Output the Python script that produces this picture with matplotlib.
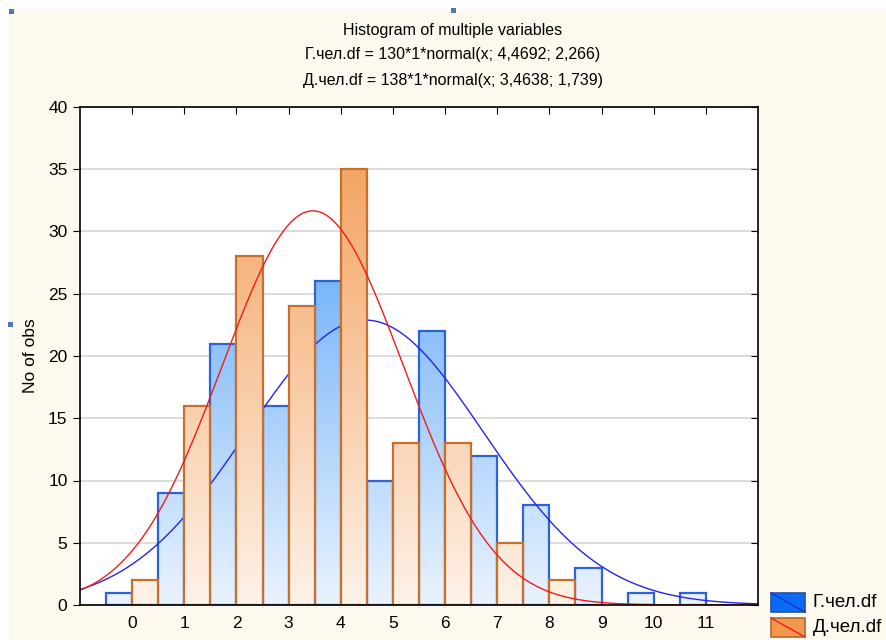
import numpy as np
import matplotlib.pyplot as plt
from matplotlib.patches import Rectangle, PathPatch
from matplotlib.path import Path
from matplotlib.lines import Line2D
from matplotlib.colors import LinearSegmentedColormap

plt.rcParams['font.family'] = ['Liberation Sans', 'DejaVu Sans']

# data
categories = [0, 1, 2, 3, 4, 5, 6, 7, 8, 9, 10, 11]
g_counts = [1, 9, 21, 16, 26, 10, 22, 12, 8, 3, 1, 1]      # Г.чел.df, n=130
d_counts = [2, 16, 28, 24, 35, 13, 13, 5, 2, 0, 0, 0]      # Д.чел.df, n=138
g_n, g_mean, g_sd = 130, 4.4692, 2.266
d_n, d_mean, d_sd = 138, 3.4638, 1.739
title_lines = ["Histogram of multiple variables",
               "Г.чел.df = 130*1*normal(x; 4,4692; 2,266)",
               "Д.чел.df = 138*1*normal(x; 3,4638; 1,739)"]

W, H = 886, 640
fig = plt.figure(figsize=(W / 100, H / 100), dpi=100, facecolor='white')
# cream panel
fig.patches.append(Rectangle((9 / W, 0), 1, 1 - 9 / H, transform=fig.transFigure,
                             facecolor='#fef9ee', edgecolor='none', zorder=-10))
for hx, hy in [(9, 9), (451, 8), (8, 322)]:
    fig.patches.append(Rectangle((hx / W, 1 - (hy + 5) / H), 5 / W, 5 / H,
                                 transform=fig.transFigure, facecolor='#4a78b4',
                                 edgecolor='none'))

ax = fig.add_axes([80 / W, 1 - 605 / H, (758 - 80) / W, (605 - 107) / H])
ax.set_facecolor('white')
ax.set_xlim(-1, 12)
ax.set_ylim(0, 40)


def gradient_bars(lefts, heights, width, top_col, bot_col, edge, z):
    verts, codes = [], []
    for x0, h in zip(lefts, heights):
        if h <= 0:
            continue
        verts += [(x0, 0), (x0, h), (x0 + width, h), (x0 + width, 0), (x0, 0)]
        codes += [Path.MOVETO, Path.LINETO, Path.LINETO, Path.LINETO, Path.CLOSEPOLY]
    path = Path(verts, codes)
    clip = PathPatch(path, facecolor='none', edgecolor='none', transform=ax.transData)
    ax.add_patch(clip)
    cmap = LinearSegmentedColormap.from_list('g', [bot_col, top_col])
    grad = np.linspace(0, 1, 256).reshape(-1, 1)
    im = ax.imshow(grad, cmap=cmap, origin='lower', extent=[-1, 12, 0, 40],
                   aspect='auto', zorder=z, interpolation='bilinear')
    im.set_clip_path(clip)
    for x0, h in zip(lefts, heights):
        if h <= 0:
            continue
        ax.add_patch(Rectangle((x0, 0), width, h, facecolor='none', edgecolor=edge,
                               linewidth=1.6, zorder=z + 0.1))


cats = np.array(categories, dtype=float)
gradient_bars(cats - 0.5, g_counts, 0.5, '#3d96f8', '#eaf3fd', '#2f62d4', 2)

x = np.linspace(-1, 12, 600)
g_curve = g_n * np.exp(-0.5 * ((x - g_mean) / g_sd) ** 2) / (g_sd * np.sqrt(2 * np.pi))
d_curve = d_n * np.exp(-0.5 * ((x - d_mean) / d_sd) ** 2) / (d_sd * np.sqrt(2 * np.pi))
ax.plot(x, g_curve, color='#2424f0', linewidth=1.0, zorder=3)

gradient_bars(cats, d_counts, 0.5, '#f39a52', '#fdf2e8', '#c4702e', 4)
ax.plot(x, d_curve, color='#f01c1c', linewidth=1.0, zorder=5)

ax.set_yticks(np.arange(0, 41, 5))
ax.set_xticks(categories)
ax.grid(axis='y', color='#d6d6d6', linewidth=1.2, zorder=0)
ax.set_axisbelow(True)
ax.tick_params(axis='x', direction='in', top=True, length=5, labelsize=12.5, pad=8)
ax.tick_params(axis='y', direction='out', length=5, labelsize=12.5, pad=4)
ax.tick_params(axis='y', which='both', right=True)
for t in ax.yaxis.get_ticklines()[1::2]:
    t.set_marker(0)
for sp in ax.spines.values():
    sp.set_linewidth(1.2)
    sp.set_zorder(6)
ax.set_ylabel("No of obs", fontsize=12.5, labelpad=7)

for i, (line, yy) in enumerate(zip(title_lines, [30, 55, 80])):
    fig.text(453 / W, 1 - yy / H, line, ha='center', va='center', fontsize=11.5)

# legend
for (ly, fc, lc, lab) in [(593, '#0a6cf4', '#1430c8', "Г.чел.df"),
                          (618, '#f4964c', '#f01c1c', "Д.чел.df")]:
    x0, x1 = 771 / W, 805 / W
    y0, y1 = 1 - (ly + 19) / H, 1 - ly / H
    fig.patches.append(Rectangle((x0, y0), x1 - x0, y1 - y0, transform=fig.transFigure,
                                 facecolor=fc, edgecolor='#2a4fa0' if lab.startswith('Г') else '#b06a30',
                                 linewidth=1.2))
    fig.lines.append(Line2D([x0, x1], [y1, y0], transform=fig.transFigure,
                            color=lc, linewidth=1.0))
    fig.text(813 / W, (y0 + y1) / 2, lab, ha='left', va='center', fontsize=13.5)

fig.savefig('out.png', dpi=100, facecolor=fig.get_facecolor())
